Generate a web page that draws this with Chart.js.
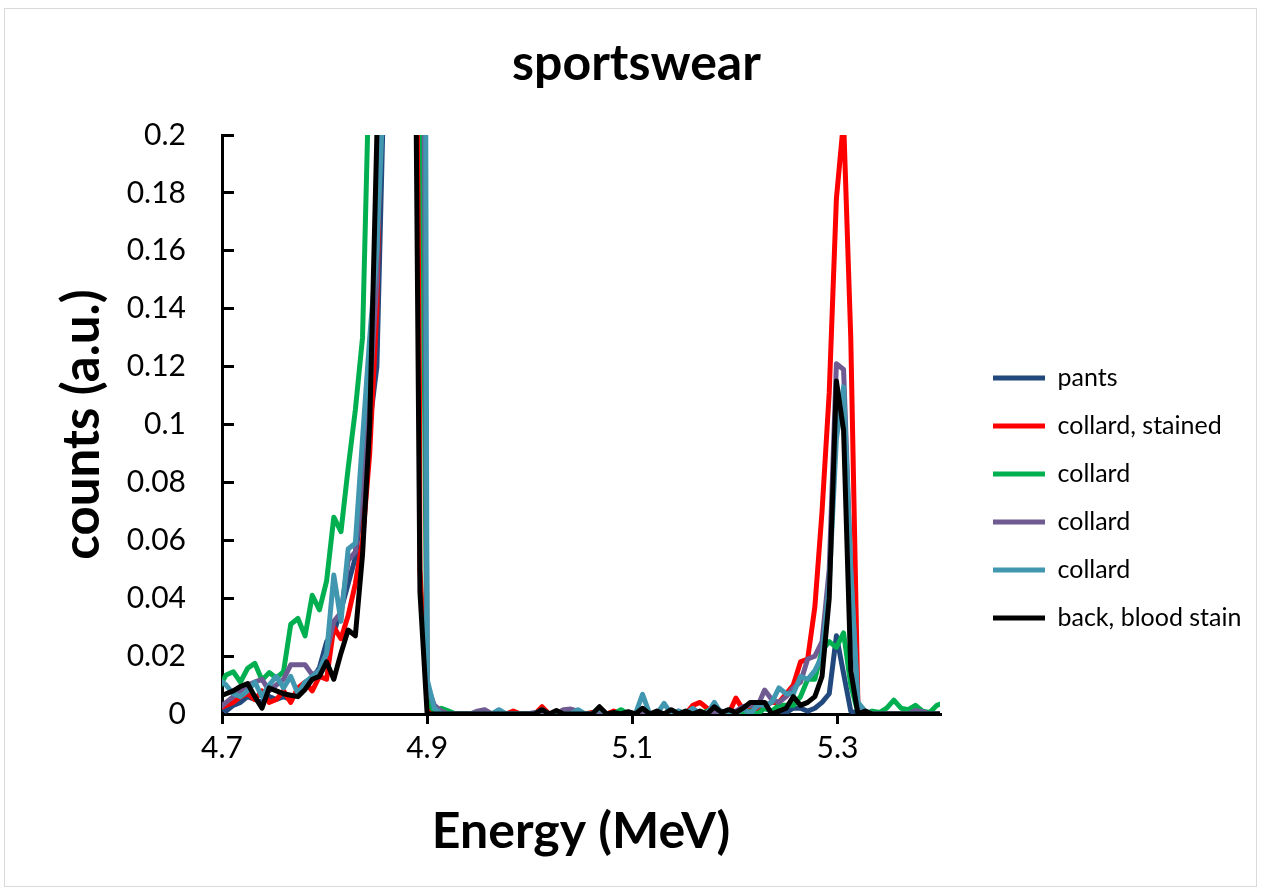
<!DOCTYPE html>
<html>
<head>
<meta charset="utf-8">
<title>sportswear</title>
<script src="https://cdn.jsdelivr.net/npm/chart.js@4"></script>
<style>
    html, body { margin: 0; padding: 0; background: #fff; }
    #wrap { position: relative; width: 1261px; height: 890px; }
    #frame {
        position: absolute; left: 4px; top: 8px; width: 1251px; height: 877px;
        border: 1px solid #d9d9d9; pointer-events: none;
    }
</style>
</head>
<body>
<div id="wrap">
    <canvas id="spectrum" width="1261" height="890"></canvas>
    <div id="frame"></div>
</div>
<script>
// channel energies (MeV)
const energy = [
    4.697, 4.704, 4.711, 4.718, 4.725, 4.732, 4.739, 4.746, 4.753, 4.760,
    4.767, 4.774, 4.781, 4.788, 4.795, 4.802, 4.809, 4.816, 4.823, 4.830,
    4.837, 4.844, 4.851, 4.858, 4.865, 4.872, 4.879, 4.886, 4.893, 4.900,
    4.907, 4.914, 4.921, 4.928, 4.935, 4.942, 4.949, 4.956, 4.963, 4.970,
    4.977, 4.984, 4.991, 4.998, 5.005, 5.012, 5.019, 5.026, 5.033, 5.040,
    5.047, 5.054, 5.061, 5.068, 5.075, 5.082, 5.089, 5.096, 5.103, 5.110,
    5.117, 5.124, 5.131, 5.138, 5.145, 5.152, 5.159, 5.166, 5.173, 5.180,
    5.187, 5.194, 5.201, 5.208, 5.215, 5.222, 5.229, 5.236, 5.243, 5.250,
    5.257, 5.264, 5.271, 5.278, 5.285, 5.292, 5.299, 5.306, 5.313, 5.320,
    5.327, 5.334, 5.341, 5.348, 5.355, 5.362, 5.369, 5.376, 5.383, 5.390,
    5.397, 5.404
];

const pants = [
    0.003, 0.001, 0.003, 0.004, 0.006, 0.005, 0.004, 0.006, 0.005, 0.006,
    0.005, 0.008, 0.010, 0.012, 0.016, 0.025, 0.028, 0.036, 0.045, 0.054,
    0.075, 0.100, 0.120, 0.220, 0.800, 1.500, 1.800, 1.500, 0.600, 0.008,
    0.001, 0, 0, 0, 0, 0, 0, 0, 0, 0,
    0, 0, 0, 0, 0, 0, 0, 0, 0, 0,
    0, 0, 0, 0, 0, 0, 0, 0, 0, 0,
    0, 0, 0, 0, 0, 0, 0, 0, 0, 0.001,
    0, 0, 0, 0, 0.001, 0.001, 0.002, 0.001, 0.001, 0.0005,
    0.002, 0.002, 0.001, 0.002, 0.004, 0.007, 0.027, 0.014, 0.001, 0,
    0, 0, 0, 0, 0, 0, 0, 0, 0, 0,
    0, 0
];

const collardStained = [
    0.002, 0.003, 0.004, 0.006, 0.007, 0.005, 0.008, 0.004, 0.005, 0.008,
    0.004, 0.009, 0.011, 0.008, 0.013, 0.012, 0.030, 0.026, 0.034, 0.045,
    0.060, 0.090, 0.140, 0.280, 0.850, 1.500, 1.800, 0.900, 0.050, 0.003,
    0, 0, 0, 0, 0, 0, 0, 0.001, 0, 0,
    0, 0.001, 0, 0, 0, 0.0025, 0, 0, 0, 0,
    0, 0, 0.0005, 0, 0, 0.001, 0, 0, 0, 0,
    0, 0, 0, 0.001, 0, 0, 0.003, 0.004, 0.002, 0,
    0, 0, 0.0055, 0.0015, 0.002, 0.001, 0.003, 0.004, 0.004, 0.007,
    0.010, 0.018, 0.019, 0.037, 0.070, 0.111, 0.178, 0.205, 0.130, 0.003,
    0, 0, 0, 0, 0, 0, 0, 0, 0, 0,
    0, 0
];

const collardA = [
    0.009, 0.0135, 0.0146, 0.011, 0.0158, 0.0175, 0.0117, 0.0143, 0.0124, 0.0146,
    0.031, 0.033, 0.027, 0.041, 0.036, 0.046, 0.068, 0.063, 0.085, 0.105,
    0.130, 0.230, 0.600, 1.100, 1.600, 1.900, 1.700, 1.000, 0.300, 0.004,
    0.001, 0.002, 0.001, 0, 0, 0, 0.0005, 0, 0, 0,
    0, 0, 0, 0, 0, 0, 0, 0, 0, 0,
    0, 0, 0, 0.001, 0, 0, 0.0015, 0, 0, 0,
    0, 0, 0, 0, 0, 0, 0, 0, 0.001, 0,
    0, 0, 0, 0, 0.001, 0, 0.002, 0.001, 0.003, 0.003,
    0.003, 0.006, 0.012, 0.012, 0.022, 0.025, 0.023, 0.028, 0.010, 0.0005,
    0, 0.001, 0.0005, 0.002, 0.0048, 0.002, 0.0015, 0.003, 0.001, 0.0005,
    0.003, 0.004
];

const collardB = [
    0.002, 0.004, 0.006, 0.008, 0.010, 0.011, 0.012, 0.008, 0.010, 0.012,
    0.017, 0.017, 0.017, 0.0135, 0.015, 0.021, 0.032, 0.035, 0.053, 0.056,
    0.080, 0.110, 0.150, 0.300, 0.900, 1.600, 1.900, 1.600, 0.500, 0.010,
    0.003, 0.001, 0, 0, 0, 0, 0.001, 0.0015, 0, 0,
    0, 0, 0, 0, 0.0005, 0, 0, 0, 0.0015, 0.0017,
    0.001, 0, 0, 0, 0, 0, 0, 0.0005, 0, 0,
    0, 0.0005, 0, 0, 0.001, 0, 0, 0, 0.0005, 0,
    0.001, 0, 0.001, 0.0025, 0.003, 0.0025, 0.0083, 0.005, 0.004, 0.006,
    0.009, 0.011, 0.019, 0.020, 0.025, 0.050, 0.121, 0.119, 0.050, 0.002,
    0.001, 0, 0, 0, 0, 0, 0, 0.0012, 0.0008, 0,
    0, 0
];

const collardC = [
    0.012, 0.010, 0.007, 0.006, 0.008, 0.011, 0.006, 0.010, 0.013, 0.009,
    0.013, 0.007, 0.011, 0.013, 0.015, 0.021, 0.048, 0.032, 0.057, 0.059,
    0.095, 0.130, 0.160, 0.220, 0.900, 1.600, 1.900, 1.800, 1.000, 0.012,
    0.002, 0, 0, 0, 0, 0, 0, 0, 0, 0.0015,
    0, 0, 0, 0, 0, 0.0015, 0, 0, 0, 0,
    0.0015, 0, 0, 0.002, 0, 0, 0, 0, 0, 0.0068,
    0, 0, 0.0037, 0, 0.001, 0, 0.002, 0, 0, 0.004,
    0, 0.0005, 0, 0.002, 0, 0.003, 0.003, 0.004, 0.009, 0.007,
    0.007, 0.013, 0.012, 0.015, 0.020, 0.045, 0.095, 0.113, 0.050, 0.004,
    0.001, 0, 0, 0, 0, 0, 0, 0, 0, 0,
    0, 0
];

const backBloodStain = [
    0.006, 0.007, 0.008, 0.0095, 0.0105, 0.006, 0.002, 0.009, 0.008, 0.007,
    0.0065, 0.006, 0.0085, 0.012, 0.013, 0.018, 0.012, 0.021, 0.029, 0.027,
    0.055, 0.100, 0.200, 0.600, 1.200, 1.700, 1.600, 0.350, 0.042, 0,
    0, 0, 0, 0, 0, 0, 0, 0, 0, 0,
    0, 0, 0, 0, 0, 0.0015, 0, 0.0012, 0, 0,
    0, 0, 0, 0.0025, 0, 0.0005, 0, 0.0008, 0, 0.002,
    0, 0.001, 0, 0.0015, 0, 0.001, 0, 0.001, 0, 0.0025,
    0.0005, 0.0015, 0.0005, 0.002, 0.004, 0.004, 0.004, 0, 0.001, 0.002,
    0.006, 0.003, 0.004, 0.006, 0.013, 0.040, 0.115, 0.098, 0.015, 0,
    0.001, 0, 0, 0, 0, 0, 0, 0, 0, 0,
    0, 0
];

const seriesNames = ['pants', 'collard, stained', 'collard', 'collard', 'collard', 'back, blood stain'];
const seriesValues = [pants, collardStained, collardA, collardB, collardC, backBloodStain];
const seriesColors = ['#22497d', '#ff0000', '#00b050', '#6f5a92', '#4197b0', '#000000'];

const xTickLabels = ['4.7', '4.9', '5.1', '5.3'];
const yTickLabels = ['0', '0.02', '0.04', '0.06', '0.08', '0.1', '0.12', '0.14', '0.16', '0.18', '0.2'];

const FONT = 'Lato, "Open Sans", sans-serif';

// later series sit on top of earlier ones
const datasets = seriesNames.map((name, k) => ({
    label: name,
    data: energy.map((e, i) => ({ x: e, y: seriesValues[k][i] })),
    borderColor: seriesColors[k],
    backgroundColor: seriesColors[k],
    borderWidth: 5,
    borderJoinStyle: 'round',
    borderCapStyle: 'round',
    pointRadius: 0,
    tension: 0,
    order: seriesNames.length - k
}));

// legend has a fixed width and sits a bit right/down of its default slot
const legendSpot = {
    id: 'legendSpot',
    beforeLayout(chart) {
        const lg = chart.legend;
        if (!lg || lg._fixedFit) return;
        const fit = lg.fit;
        lg.fit = function () {
            fit.call(this);
            this.width = 321;
        };
        lg._fixedFit = true;
    },
    afterLayout(chart) {
        const lg = chart.legend;
        lg.left += 30; lg.right += 30;
        lg.top += 53; lg.bottom += 53;
    }
};

const ctx = document.getElementById('spectrum').getContext('2d');
new Chart(ctx, {
    type: 'line',
    data: { datasets },
    plugins: [legendSpot],
    options: {
        responsive: false,
        animation: false,
        layout: { padding: { left: 12, right: 0, top: 0, bottom: 0 } },
        plugins: {
            title: {
                display: true,
                text: 'sportswear',
                color: '#000',
                font: { family: FONT, size: 50, weight: 'bold' },
                padding: { top: 34, bottom: 41 }
            },
            legend: {
                position: 'right',
                align: 'center',
                labels: {
                    usePointStyle: true,
                    pointStyle: 'line',
                    pointStyleWidth: 52,
                    padding: 23,
                    color: '#000',
                    font: { family: FONT, size: 25 },
                    sort: (a, b) => a.datasetIndex - b.datasetIndex
                }
            },
            tooltip: { enabled: false }
        },
        scales: {
            x: {
                type: 'linear',
                position: 'bottom',
                min: 4.7,
                max: 5.4,
                afterBuildTicks: s => { s.ticks = xTickLabels.map(t => ({ value: parseFloat(t) })); },
                afterFit: s => { s.height = 176; },
                ticks: {
                    autoSkip: false,
                    maxRotation: 0,
                    padding: 6,
                    color: '#000',
                    font: { family: FONT, size: 30 },
                    callback: (v, i) => xTickLabels[i]
                },
                grid: { drawOnChartArea: false, drawTicks: true, tickLength: 10, color: '#000', lineWidth: 3 },
                border: { color: '#000', width: 3 },
                title: {
                    display: true,
                    text: 'Energy (MeV)',
                    color: '#000',
                    font: { family: FONT, size: 50, weight: 'bold' },
                    padding: { top: 0, bottom: 28 }
                }
            },
            y: {
                min: 0,
                max: 0.2,
                afterBuildTicks: s => { s.ticks = yTickLabels.map(t => ({ value: parseFloat(t) })); },
                afterFit: s => { s.width = 210; },
                ticks: {
                    padding: 48,
                    color: '#000',
                    font: { family: FONT, size: 30 },
                    callback: (v, i) => yTickLabels[i]
                },
                // negative length puts the tick marks inside the plot
                grid: { drawOnChartArea: false, drawTicks: true, tickLength: -12, color: '#000', lineWidth: 3 },
                border: { color: '#000', width: 3 },
                title: {
                    display: true,
                    text: 'counts (a.u.)',
                    color: '#000',
                    font: { family: FONT, size: 51, weight: 'bold' },
                    padding: { top: 40, bottom: 0 }
                }
            }
        }
    }
});
</script>
</body>
</html>
